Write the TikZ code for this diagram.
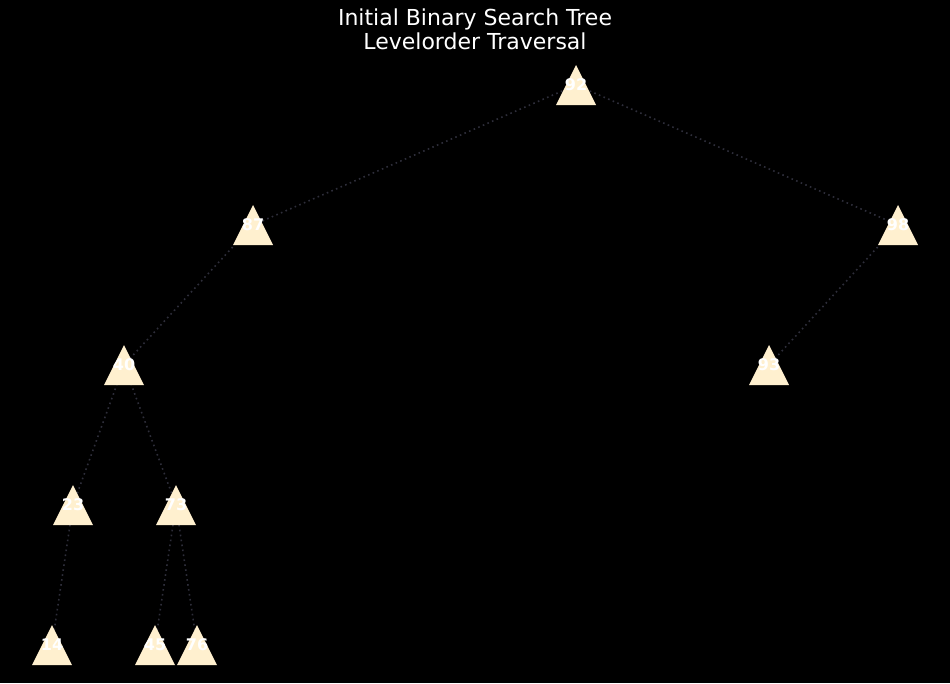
\documentclass[tikz,border=0pt]{standalone}
\usepackage{fontspec}
\setmainfont{DejaVu Sans}
\definecolor{trifill}{HTML}{FFF0CF}
\definecolor{edgecol}{HTML}{2E2E3A}
\tikzset{
  edge/.style={draw=edgecol, line width=1.6pt, dash pattern=on 1.6pt off 3.4pt},
  tri/.style={fill=trifill},
  lbl/.style={text=white, font=\bfseries\fontsize{16}{16}\selectfont, inner sep=0pt},
  ttl/.style={text=white, font=\fontsize{22}{24}\selectfont, align=center, inner sep=0pt}
}
\newcommand\tnode[3]{%
  \fill[tri] (#2) ++(-20,20) -- ++(40,0) -- ++(-20,-40) -- cycle;
  \node[lbl] (#1) at (#2) {#3};}
\begin{document}
\begin{tikzpicture}[x=1pt,y=-1pt]
\fill[black] (0,0) rectangle (950,683);
\useasboundingbox (0,0) rectangle (950,683);
\node[ttl] (title) at (475,29) {Initial Binary Search Tree\\Levelorder Traversal};
\coordinate (c92) at (576,85);
\coordinate (c87) at (253,225);
\coordinate (c98) at (898,225);
\coordinate (c40) at (124,365);
\coordinate (c93) at (769,365);
\coordinate (c23) at (73,505);
\coordinate (c73) at (176,505);
\coordinate (c14) at (52,645);
\coordinate (c45) at (155,645);
\coordinate (c76) at (197,645);
\draw[edge] (c92) -- (c87);
\draw[edge] (c92) -- (c98);
\draw[edge] (c87) -- (c40);
\draw[edge] (c98) -- (c93);
\draw[edge] (c40) -- (c23);
\draw[edge] (c40) -- (c73);
\draw[edge] (c23) -- (c14);
\draw[edge] (c73) -- (c45);
\draw[edge] (c73) -- (c76);
\tnode{n92}{c92}{92}
\tnode{n87}{c87}{87}
\tnode{n98}{c98}{98}
\tnode{n40}{c40}{40}
\tnode{n93}{c93}{93}
\tnode{n23}{c23}{23}
\tnode{n73}{c73}{73}
\tnode{n14}{c14}{14}
\tnode{n45}{c45}{45}
\tnode{n76}{c76}{76}
\end{tikzpicture}
\end{document}
